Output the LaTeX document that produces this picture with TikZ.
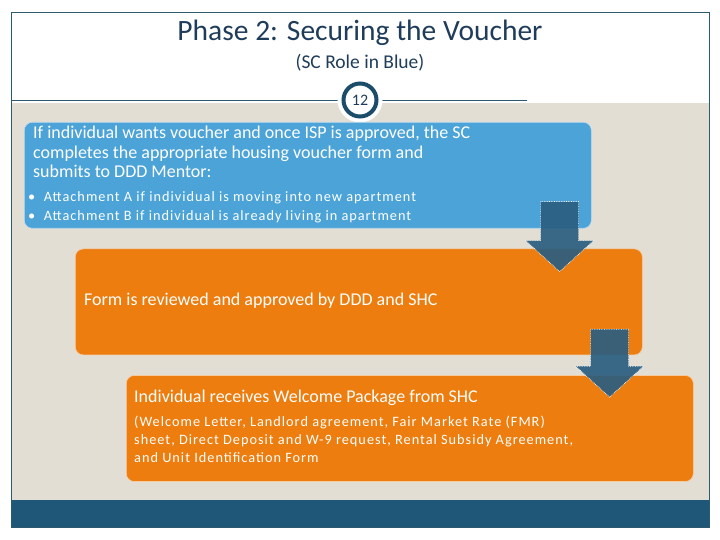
\documentclass[tikz,border=0pt]{standalone}
\usepackage{fontspec}
\setmainfont{Carlito}
\usepackage{xcolor}
\usetikzlibrary{positioning, calc}

\definecolor{titleink}{HTML}{1F3D5A}
\definecolor{frameteal}{HTML}{2D5A6E}
\definecolor{pagebeige}{HTML}{E2DED4}
\definecolor{banddark}{HTML}{1F5778}
\definecolor{ringblue}{HTML}{1B4D6B}
\definecolor{boxblue}{HTML}{4BA3D8}
\definecolor{boxorange}{HTML}{ED7D0E}
\definecolor{arrowteal}{HTML}{2A5E80}

\tikzset{
  stepbox/.style={rounded corners=8pt, minimum width=567pt, minimum height=106pt,
    inner sep=0pt, anchor=north west, draw=white!60!#1, line width=0.6pt, fill=#1},
  boxtext/.style={text=white, align=left, anchor=north west, inner sep=0pt},
  smalltext/.style={boxtext, font=\fontsize{14.3}{#1}\selectfont\addfontfeature{LetterSpace=7}},
  downblock/.style={fill=arrowteal, fill opacity=0.92, draw=white, densely dotted, line width=0.7pt}
}

% block arrow from the top of its shaft (#1) to its tip (#2)
\newcommand{\flowarrow}[2]{
  \draw[downblock] ($(#1)+(-19,0)$) -- ($(#1)+(19,0)$) -- ($(#2)+(19,-31)$)
    -- ($(#2)+(34,-31)$) -- (#2) -- ($(#2)+(-34,-31)$) -- ($(#2)+(-19,-31)$) -- cycle;
}

\begin{document}
\begin{tikzpicture}[x=1pt, y=-1pt]
    \useasboundingbox (0,0) rectangle (720,540);
    \fill[white] (0,0) rectangle (720,540);
    \fill[pagebeige] (11,103) rectangle (709,500);
    \fill[banddark] (11,500) rectangle (709,527);
    \draw[frameteal, line width=0.8pt] (11,12) rectangle (709,527);
    \draw[frameteal, line width=0.8pt] (11,100) -- (527,100);

    % heading
    \node[text=titleink, font=\fontsize{29.5}{32}\selectfont] (title) at (360,33) {Phase 2: Securing the Voucher};
    \node[text=titleink, font=\fontsize{19.5}{22}\selectfont] (subtitle) at (360,63) {(SC Role in Blue)};

    % slide number
    \node[circle, fill=white, minimum size=45pt] (halo) at (360,100) {};
    \node[circle, draw=ringblue, line width=4pt, fill=white, minimum size=33pt, inner sep=0pt,
          text=titleink, font=\fontsize{16}{18}\selectfont] (slideno) at (halo) {12};

    % steps
    \node[stepbox=boxblue] (voucher) at (24,122) {};
    \node[stepbox=boxorange, below=20pt of voucher.south west, anchor=north west, xshift=51pt] (review) {};
    \node[stepbox=boxorange, below=20pt of review.south west, anchor=north west, xshift=51pt] (welcome) {};

    \node[boxtext, font=\fontsize{18}{19.5}\selectfont] (vtext) at ($(voucher.north west)+(9,4)$)
        {If individual wants voucher and once ISP is approved, the SC\\
         completes the appropriate housing voucher form and\\
         submits to DDD Mentor:};
    \node[smalltext=19.5, below=13pt of vtext.south west, anchor=north west, xshift=-5pt] (vbullets)
        {\textbullet\ \ Attachment A if individual is moving into new apartment\\
         \textbullet\ \ Attachment B if individual is already living in apartment};

    \node[text=white, inner sep=0pt, anchor=west, font=\fontsize{18}{20}\selectfont] (rtext)
        at ($(review.west)+(9,-1)$) {Form is reviewed and approved by DDD and SHC};

    \node[boxtext, font=\fontsize{18}{20}\selectfont] (wtext) at ($(welcome.north west)+(8,15)$)
        {Individual receives Welcome Package from SHC};
    \node[smalltext=18, below=10pt of wtext.south west, anchor=north west] (wlist)
        {(Welcome Letter, Landlord agreement, Fair Market Rate (FMR)\\
         sheet, Direct Deposit and W-9 request, Rental Subsidy Agreement,\\
         and Unit Identification Form};

    % arrows between steps
    \coordinate (a1top) at ($(voucher.south east)+(-32,-27)$);
    \coordinate (a1tip) at ($(a1top |- review.north)+(0,23)$);
    \coordinate (a2top) at ($(review.south east)+(-33,-26)$);
    \coordinate (a2tip) at ($(a2top |- welcome.north)+(0,22)$);
    \flowarrow{a1top}{a1tip}
    \flowarrow{a2top}{a2tip}
\end{tikzpicture}
\end{document}
